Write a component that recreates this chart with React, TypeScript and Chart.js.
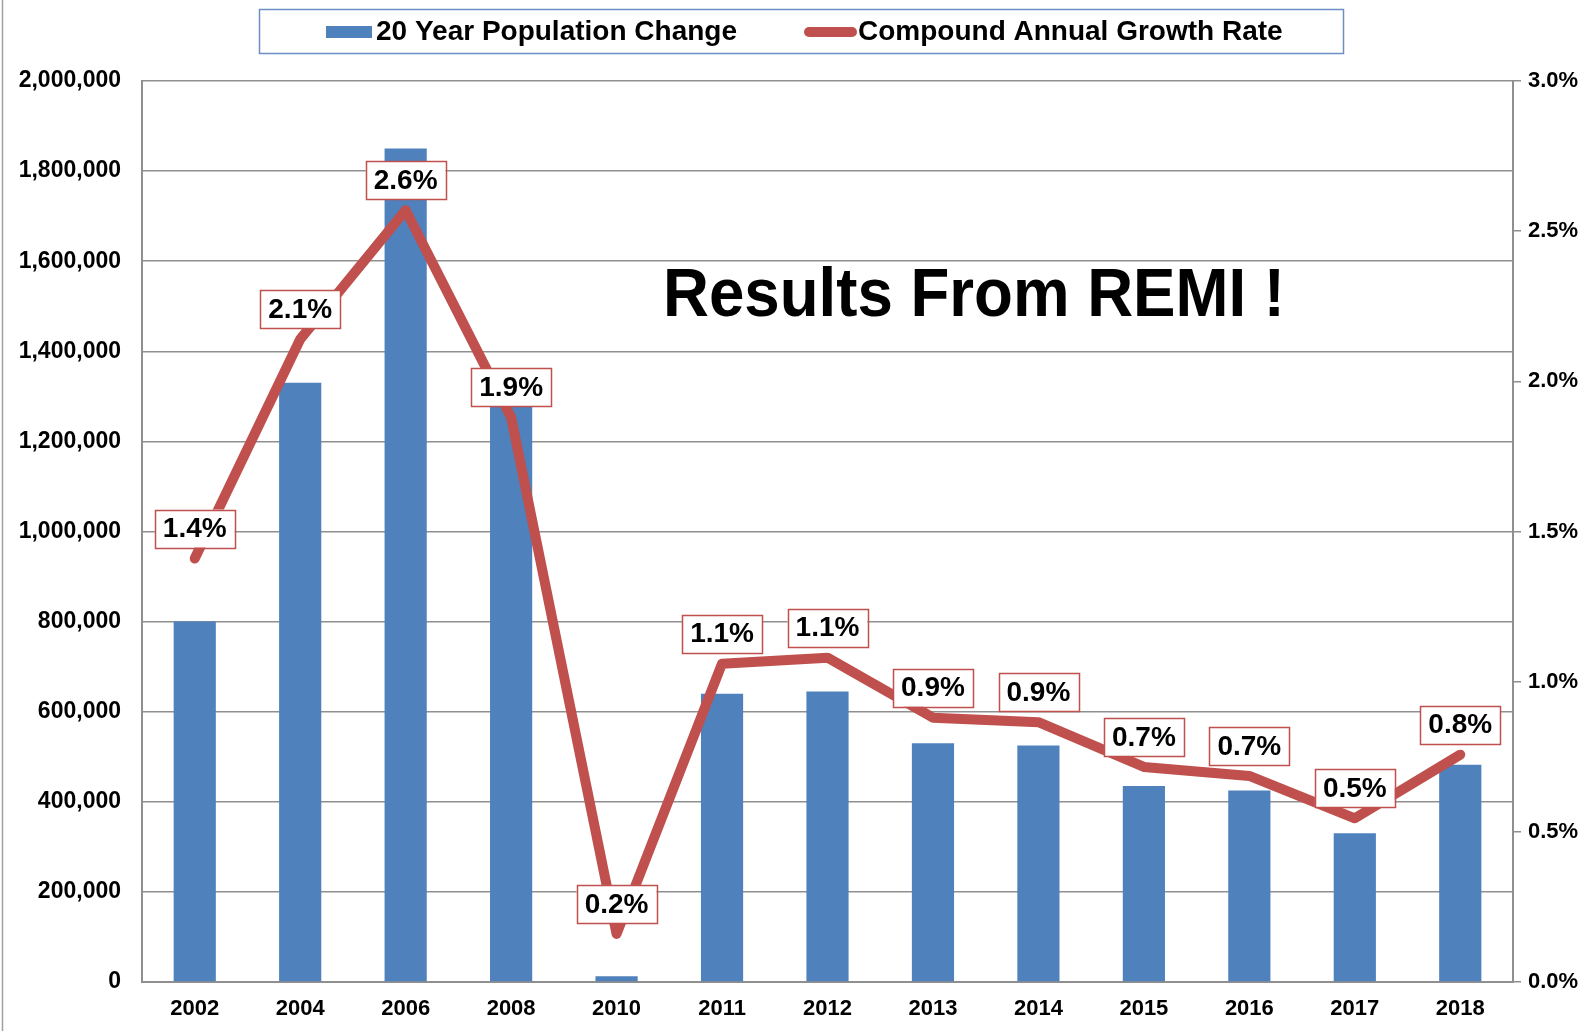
import React, { useEffect, useRef } from "react";
import { Chart, registerables } from "chart.js";

Chart.register(...registerables);

const years = ["2002", "2004", "2006", "2008", "2010", "2011", "2012", "2013", "2014", "2015", "2016", "2017", "2018"];
const populationChange = [800000, 1330000, 1850000, 1290000, 13000, 640000, 645000, 530000, 525000, 435000, 425000, 330000, 482000];
const growthRate = [1.41, 2.14, 2.57, 1.88, 0.16, 1.06, 1.08, 0.88, 0.865, 0.716, 0.686, 0.545, 0.757];
const barLabel = "20 Year Population Change";
const lineLabel = "Compound Annual Growth Rate";
const titleText = "Results From REMI !";

const BLUE = "#4f81bd";
const RED = "#c0504d";
const GRID = "#8f8f8f";
const FONT = "'Liberation Sans', Arial, sans-serif";

const overlayPlugin = {
  id: "overlay",
  afterDatasetsDraw(chart: any) {
    const ctx = chart.ctx;
    const meta = chart.getDatasetMeta(0);
    ctx.save();
    ctx.font = `bold 28px ${FONT}`;
    ctx.textAlign = "center";
    ctx.textBaseline = "middle";
    meta.data.forEach((pt: any, i: number) => {
      const txt = growthRate[i].toFixed(1) + "%";
      const w = ctx.measureText(txt).width + 16;
      const h = 38;
      const cx = pt.x;
      const cy = pt.y - 30;
      ctx.fillStyle = "#ffffff";
      ctx.fillRect(cx - w / 2, cy - h / 2, w, h);
      ctx.strokeStyle = RED;
      ctx.lineWidth = 1.5;
      ctx.strokeRect(Math.round(cx - w / 2) + 0.5, Math.round(cy - h / 2) + 0.5, Math.round(w), h);
      ctx.fillStyle = "#000000";
      ctx.fillText(txt, cx, cy + 1);
    });
    ctx.restore();
  },
  afterDraw(chart: any) {
    const ctx = chart.ctx;
    ctx.save();
    ctx.strokeStyle = "#a0a0a0";
    ctx.lineWidth = 1.5;
    ctx.beginPath();
    ctx.moveTo(2.5, 0);
    ctx.lineTo(2.5, chart.height);
    ctx.stroke();

    // legend
    ctx.strokeStyle = "#6d8fc4";
    ctx.lineWidth = 1.5;
    ctx.strokeRect(259.5, 9.5, 1084, 44);
    ctx.fillStyle = BLUE;
    ctx.fillRect(326, 26, 46, 12);
    ctx.font = `bold 28px ${FONT}`;
    ctx.fillStyle = "#000000";
    ctx.textAlign = "left";
    ctx.textBaseline = "alphabetic";
    ctx.fillText(barLabel, 376, 40);
    ctx.strokeStyle = RED;
    ctx.lineWidth = 10;
    ctx.lineCap = "round";
    ctx.beginPath();
    ctx.moveTo(809, 32);
    ctx.lineTo(852, 32);
    ctx.stroke();
    ctx.fillText(lineLabel, 858, 40);

    // annotation title
    ctx.font = `bold 69px ${FONT}`;
    const tw = ctx.measureText(titleText).width;
    const sx = 622 / tw;
    ctx.translate(663, 316);
    ctx.scale(sx, 1);
    ctx.fillText(titleText, 0, 0);
    ctx.restore();
  },
};

export default function App() {
  const ref = useRef<HTMLCanvasElement | null>(null);
  useEffect(() => {
    document.body.style.margin = "0";
    document.body.style.overflow = "hidden";
    if (!ref.current) return;
    const chart = new Chart(ref.current, {
      type: "bar",
      data: {
        labels: years,
        datasets: [
          {
            type: "line",
            label: lineLabel,
            data: growthRate,
            yAxisID: "y1",
            borderColor: RED,
            backgroundColor: RED,
            borderWidth: 10,
            pointRadius: 0,
            pointHoverRadius: 0,
            tension: 0,
            borderJoinStyle: "round",
            borderCapStyle: "round",
            order: 1,
          } as any,
          {
            type: "bar",
            label: barLabel,
            data: populationChange,
            yAxisID: "y",
            backgroundColor: BLUE,
            borderWidth: 0,
            barPercentage: 0.4,
            categoryPercentage: 1.0,
            order: 2,
          },
        ],
      },
      options: {
        responsive: false,
        animation: false,
        devicePixelRatio: 1,
        layout: { padding: { top: 81, left: 0, right: 0, bottom: 0 } },
        plugins: {
          legend: { display: false },
          tooltip: { enabled: false },
          title: { display: false },
        },
        scales: {
          x: {
            type: "category",
            offset: true,
            grid: { display: true, drawOnChartArea: false, drawTicks: false },
            border: { display: true, color: GRID, width: 2 },
            ticks: {
              color: "#000000",
              font: { family: FONT, size: 22, weight: "bold" },
              padding: 14,
              maxRotation: 0,
            },
            afterFit(scale: any) {
              scale.height = 49;
            },
          },
          y: {
            type: "linear",
            position: "left",
            min: 0,
            max: 2000000,
            grid: { color: GRID, lineWidth: 1.5, drawTicks: false },
            border: { display: true, color: GRID, width: 2 },
            ticks: {
              stepSize: 200000,
              color: "#000000",
              padding: 21,
              font: { family: FONT, size: 23, weight: "bold" },
              callback: (v: any) => Number(v).toLocaleString("en-US"),
            },
            afterFit(scale: any) {
              scale.width = 142;
            },
          },
          y1: {
            type: "linear",
            position: "right",
            min: 0,
            max: 3,
            grid: { drawOnChartArea: false, drawTicks: true, tickLength: 8, color: GRID, lineWidth: 1.5 },
            border: { display: true, color: GRID, width: 2 },
            ticks: {
              stepSize: 0.5,
              color: "#000000",
              padding: 7,
              font: { family: FONT, size: 22, weight: "bold" },
              callback: (v: any) => Number(v).toFixed(1) + "%",
            },
            afterFit(scale: any) {
              scale.width = 74;
            },
          },
        },
      } as any,
      plugins: [overlayPlugin],
    });
    return () => chart.destroy();
  }, []);
  return (
    <div style={{ width: 1587, height: 1031, background: "#ffffff" }}>
      <canvas ref={ref} width={1587} height={1031} style={{ display: "block" }} />
    </div>
  );
}
